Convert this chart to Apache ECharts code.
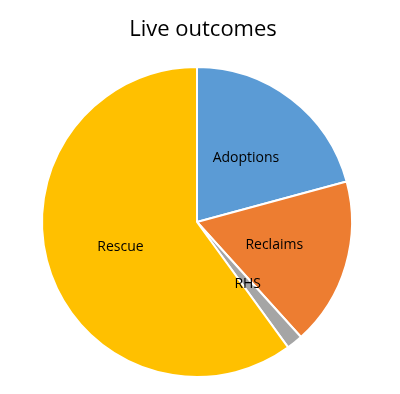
<!DOCTYPE html>
<html><head><meta charset="utf-8">
<script src="https://cdn.jsdelivr.net/npm/echarts@6/dist/echarts.min.js"></script>
<style>html,body{margin:0;padding:0;background:#fff}#c{width:400px;height:394px}</style>
</head><body><div id="c"></div>
<script>
const categories = ["Adoptions", "Reclaims", "RHS", "Rescue"];
const values = [20.8, 17.5, 1.7, 60.0];
const colors = ["#5B9BD5", "#ED7D31", "#A5A5A5", "#FFC000"];
const chart = echarts.init(document.getElementById('c'));
chart.setOption({
  animation: false,
  title: { text: "Live outcomes", left: 198, top: 14, textAlign: 'center',
    textStyle: { fontFamily: "Open Sans", fontSize: 22, fontWeight: 'normal', color: '#000' } },
  series: [{
    type: 'pie', center: [197, 222], radius: [0, 155], startAngle: 90, clockwise: true,
    data: categories.map((c, i) => ({ name: c, value: values[i], itemStyle: { color: colors[i] } })),
    itemStyle: { borderColor: '#fff', borderWidth: 2 },
    label: { show: true, position: 'inside', formatter: '{b}', color: '#000', fontSize: 14, fontFamily: "Open Sans" },
    labelLine: { show: false }
  }]
});
</script></body></html>
